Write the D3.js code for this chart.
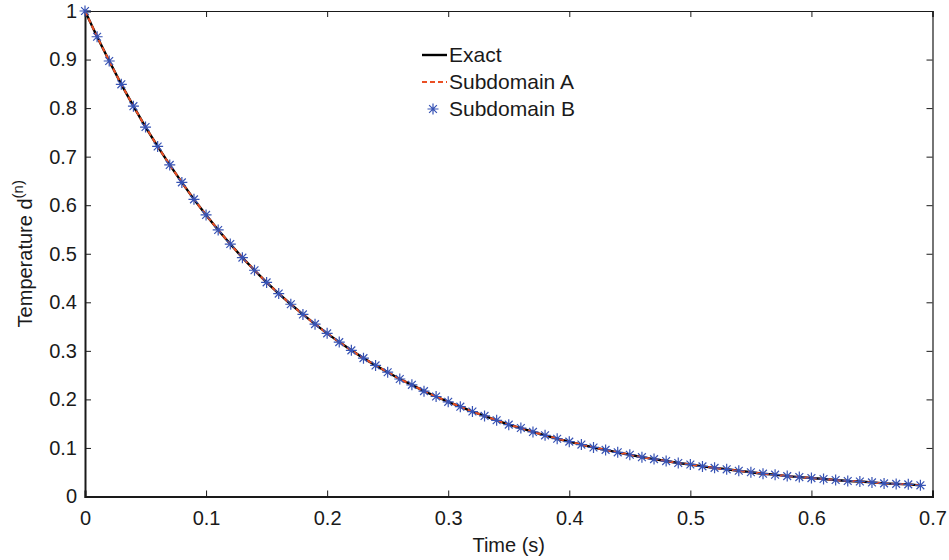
<!DOCTYPE html>
<html>
<head>
<meta charset="utf-8">
<script src="https://cdn.jsdelivr.net/npm/d3@7"></script>
<style>
  body { margin: 0; background: #fff; }
  text { font-family: "Liberation Sans", Arial, sans-serif; fill: #1a1a1a; }
</style>
</head>
<body>
<div id="chart"></div>
<script>
var time = [0, 0.01, 0.02, 0.03, 0.04, 0.05, 0.06, 0.07, 0.08, 0.09,
  0.10, 0.11, 0.12, 0.13, 0.14, 0.15, 0.16, 0.17, 0.18, 0.19,
  0.20, 0.21, 0.22, 0.23, 0.24, 0.25, 0.26, 0.27, 0.28, 0.29,
  0.30, 0.31, 0.32, 0.33, 0.34, 0.35, 0.36, 0.37, 0.38, 0.39,
  0.40, 0.41, 0.42, 0.43, 0.44, 0.45, 0.46, 0.47, 0.48, 0.49,
  0.50, 0.51, 0.52, 0.53, 0.54, 0.55, 0.56, 0.57, 0.58, 0.59,
  0.60, 0.61, 0.62, 0.63, 0.64, 0.65, 0.66, 0.67, 0.68, 0.69];

// temperature (exact, subdomain A and B overlap)
var exact = [1.000, 0.947, 0.897, 0.849, 0.804, 0.761, 0.721, 0.683, 0.647, 0.612,
  0.580, 0.549, 0.520, 0.492, 0.466, 0.441, 0.418, 0.396, 0.375, 0.355,
  0.336, 0.318, 0.301, 0.285, 0.270, 0.256, 0.242, 0.230, 0.217, 0.206,
  0.195, 0.185, 0.175, 0.166, 0.157, 0.148, 0.141, 0.133, 0.126, 0.119,
  0.113, 0.107, 0.101, 0.096, 0.091, 0.086, 0.081, 0.077, 0.073, 0.069,
  0.066, 0.062, 0.059, 0.056, 0.053, 0.050, 0.047, 0.045, 0.042, 0.040,
  0.038, 0.036, 0.034, 0.032, 0.031, 0.029, 0.027, 0.026, 0.025, 0.023];
var subA = exact.slice();
var subB = exact.slice();

var xTicks = [0, 0.1, 0.2, 0.3, 0.4, 0.5, 0.6, 0.7];
var yTicks = [0, 0.1, 0.2, 0.3, 0.4, 0.5, 0.6, 0.7, 0.8, 0.9, 1];
var legendNames = ["Exact", "Subdomain A", "Subdomain B"];

var W = 949, H = 560;
var m = {left: 85, right: 16.5, top: 11, bottom: 63.5};
var iw = W - m.left - m.right, ih = H - m.top - m.bottom;

var svg = d3.select("#chart").append("svg")
    .attr("width", W)
    .attr("height", H);

var g = svg.append("g").attr("transform", "translate(" + m.left + "," + m.top + ")");

var x = d3.scaleLinear().domain([0, 0.7]).range([0, iw]);
var y = d3.scaleLinear().domain([0, 1]).range([ih, 0]);

var fmt = function(d) { return d === 0 ? "0" : d === 1 ? "1" : d3.format(".1f")(d); };

// axes with inward ticks, mirrored on top and right
var axB = g.append("g").attr("transform", "translate(0," + ih + ")")
    .call(d3.axisBottom(x).tickValues(xTicks).tickSize(-6).tickPadding(14).tickFormat(fmt));
var axL = g.append("g")
    .call(d3.axisLeft(y).tickValues(yTicks).tickSize(-6).tickPadding(8).tickFormat(fmt));
var axT = g.append("g")
    .call(d3.axisTop(x).tickValues(xTicks).tickSize(-6).tickFormat(""));
var axR = g.append("g").attr("transform", "translate(" + iw + ",0)")
    .call(d3.axisRight(y).tickValues(yTicks).tickSize(-6).tickFormat(""));

[axB, axL, axT, axR].forEach(function(a) {
  a.attr("font-size", null).attr("font-family", null);
  a.select(".domain").attr("stroke", "#1a1a1a").attr("stroke-width", 1.2);
  a.selectAll(".tick line").attr("stroke", "#1a1a1a").attr("stroke-width", 1);
  a.selectAll(".tick text").attr("font-size", 20).attr("fill", "#1a1a1a");
});
axL.select(".domain").attr("stroke-width", 2);
axB.select(".domain").attr("stroke-width", 2);

var line = d3.line()
    .x(function(d, i) { return x(time[i]); })
    .y(function(d) { return y(d); });

g.append("path")
    .datum(exact)
    .attr("d", line)
    .attr("fill", "none")
    .attr("stroke", "#000")
    .attr("stroke-width", 2.4);

g.append("path")
    .datum(subA)
    .attr("d", line)
    .attr("fill", "none")
    .attr("stroke", "#ea4f24")
    .attr("stroke-width", 2)
    .attr("stroke-dasharray", "5,3");

var star = "M-5.5,0H5.5M0,-5.5V5.5M-3.9,-3.9L3.9,3.9M-3.9,3.9L3.9,-3.9";

g.selectAll(".mk")
    .data(subB)
    .enter()
    .append("path")
    .attr("class", "mk")
    .attr("transform", function(d, i) { return "translate(" + x(time[i]) + "," + y(d) + ")"; })
    .attr("d", star)
    .attr("fill", "none")
    .attr("stroke", "#3753b5")
    .attr("stroke-width", 1.2);

// legend
var lg = svg.append("g");
var rowY = [55, 82, 109];
lg.append("line").attr("x1", 422).attr("x2", 447).attr("y1", rowY[0]).attr("y2", rowY[0])
    .attr("stroke", "#000").attr("stroke-width", 2.4);
lg.append("line").attr("x1", 422).attr("x2", 447).attr("y1", rowY[1]).attr("y2", rowY[1])
    .attr("stroke", "#ea4f24").attr("stroke-width", 2).attr("stroke-dasharray", "5,3");
lg.append("path").attr("transform", "translate(433," + rowY[2] + ")").attr("d", star)
    .attr("fill", "none").attr("stroke", "#3753b5").attr("stroke-width", 1.2);
lg.selectAll(".lt")
    .data(legendNames)
    .enter()
    .append("text")
    .attr("x", 449)
    .attr("y", function(d, i) { return rowY[i]; })
    .attr("dy", "0.35em")
    .attr("font-size", 21)
    .text(function(d) { return d; });

// axis titles
svg.append("text")
    .attr("x", m.left + iw / 2)
    .attr("y", 552)
    .attr("text-anchor", "middle")
    .attr("font-size", 20)
    .text("Time (s)");

var yl = svg.append("text")
    .attr("transform", "translate(32," + (m.top + ih / 2) + ") rotate(-90)")
    .attr("text-anchor", "middle")
    .attr("font-size", 20);
yl.append("tspan").text("Temperature d");
yl.append("tspan").attr("dy", -9).attr("font-size", 15).text("(n)");
</script>
</body>
</html>
